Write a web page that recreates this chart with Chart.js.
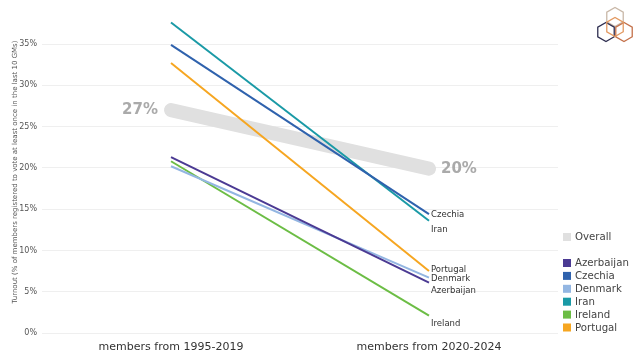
<!DOCTYPE html>
<html>
<head>
<meta charset="utf-8">
<script src="https://cdn.jsdelivr.net/npm/chart.js@4.4.0/dist/chart.umd.min.js"></script>
<style>
  html,body{margin:0;padding:0;background:#fff;}
  #wrap{position:relative;width:640px;height:360px;}
</style>
</head>
<body>
<div id="wrap"><canvas id="chart" width="640" height="360"></canvas></div>
<script>

// data

const periods = ["members from 1995-2019", "members from 2020-2024"];

const countries = ["Azerbaijan", "Czechia", "Denmark", "Iran", "Ireland", "Portugal"];

const azerbaijan = [21.3, 6.1];
const czechia = [34.9, 14.4];
const denmark = [20.2, 6.7];
const iran = [37.6, 13.6];
const ireland = [20.8, 2.1];
const portugal = [32.7, 7.5];

const overall = [27.0, 19.9];
const overallLabels = ["27%", "20%"];

const yTicks = [0, 5, 10, 15, 20, 25, 30, 35];

const colors = {
  Azerbaijan:'#4b3a93',
  Czechia:'#2f62ad',
  Denmark:'#93b6e2',
  Iran:'#1a9aa6',
  Ireland:'#6cbd45',
  Portugal:'#f6a621',
  Overall:'#e0e0e0'
};

const seriesValues = [azerbaijan, czechia, denmark, iran, ireland, portugal];

// end label nudges so the names don't overlap
const endLabelShift = {
  Azerbaijan:8, Czechia:0.5, Denmark:1, Iran:9.5, Ireland:8, Portugal:-1
};

const FONT = "'DejaVu Sans', Verdana, sans-serif";

const datasets = countries.map((name,i)=>({
  label:name,
  data:seriesValues[i],
  borderColor:colors[name],
  backgroundColor:colors[name],
  borderWidth:2,
  pointRadius:0,
  order:0
}));

datasets.push({
  label:"Overall",
  data:overall,
  borderColor:colors.Overall,
  backgroundColor:colors.Overall,
  borderWidth:14,
  borderCapStyle:'round',
  pointRadius:0,
  order:1
});

const labelPlugin = {

  id:'labels',

  afterDatasetsDraw(chart){

    const ctx = chart.ctx;
    const xs = chart.scales.x;
    const ys = chart.scales.y;

    ctx.save();

    // overall value labels
    ctx.font = "bold 15px " + FONT;
    ctx.fillStyle = '#aaaaaa';
    ctx.textBaseline = 'middle';

    ctx.textAlign = 'right';
    ctx.fillText(overallLabels[0], xs.getPixelForValue(0) - 13, ys.getPixelForValue(overall[0]));

    ctx.textAlign = 'left';
    ctx.fillText(overallLabels[1], xs.getPixelForValue(1) + 12, ys.getPixelForValue(overall[1]));

    // country names at line ends
    ctx.font = "8.5px " + FONT;
    ctx.fillStyle = '#333333';

    countries.forEach((name,i)=>{
      const y = ys.getPixelForValue(seriesValues[i][1]) + endLabelShift[name];
      ctx.fillText(name, xs.getPixelForValue(1) + 2, y);
    });

    // legend
    const lx = 563;
    ctx.font = "10.2px " + FONT;
    ctx.fillStyle = colors.Overall;
    ctx.fillRect(lx, 233, 8, 8);
    ctx.fillStyle = '#444444';
    ctx.fillText("Overall", lx + 12, 237.5);

    countries.forEach((name,i)=>{
      const y = 263 + i*12.9;
      ctx.fillStyle = colors[name];
      ctx.fillRect(lx, y - 4, 8, 8);
      ctx.fillStyle = '#444444';
      ctx.fillText(name, lx + 12, y + 0.5);
    });

    // logo (hexagons)
    const hex = (cx,cy,r,col)=>{
      ctx.beginPath();
      for(let k=0;k<6;k++){
        const a = Math.PI/3*k + Math.PI/6;
        const px = cx + r*Math.cos(a);
        const py = cy + r*Math.sin(a);
        k===0 ? ctx.moveTo(px,py) : ctx.lineTo(px,py);
      }
      ctx.closePath();
      ctx.strokeStyle = col;
      ctx.lineWidth = 1.3;
      ctx.stroke();
    };
    hex(615, 17, 9.5, '#c9b8a8');
    hex(606, 32, 9.5, '#2e2e50');
    hex(624, 32, 9.5, '#c4714a');
    hex(615, 27, 9.5, '#e39a62');

    ctx.restore();

  }

};

new Chart(document.getElementById("chart"),{

  type:'line',

  data:{
    labels:periods,
    datasets:datasets
  },

  options:{

    responsive:false,
    animation:false,

    layout:{
      padding:{top:11, right:82, bottom:0, left:0}
    },

    plugins:{
      legend:{display:false},
      tooltip:{enabled:false}
    },

    scales:{

      x:{
        offset:true,
        grid:{display:false},
        border:{display:false},
        ticks:{
          color:'#333333',
          font:{family:FONT, size:11},
          padding:0
        },
        afterFit(scale){ scale.height = 27; }
      },

      y:{
        min:0,
        max:39,
        border:{display:false},
        grid:{color:'#efefef', drawTicks:false},
        afterBuildTicks(scale){
          scale.ticks = yTicks.map(v=>({value:v}));
        },
        ticks:{
          color:'#555555',
          font:{family:FONT, size:8},
          padding:5
          ,callback:v=>v + '%'
        },
        title:{
          display:true,
          text:'Turnout (% of members registered to vote at least once in the last 10 GMs)',
          color:'#555555',
          font:{family:FONT, size:7},
          padding:{top:11, bottom:0}
        },
        afterFit(scale){ scale.width = 42; }
      }

    }

  },

  plugins:[labelPlugin]

});

</script>
</body>
</html>
